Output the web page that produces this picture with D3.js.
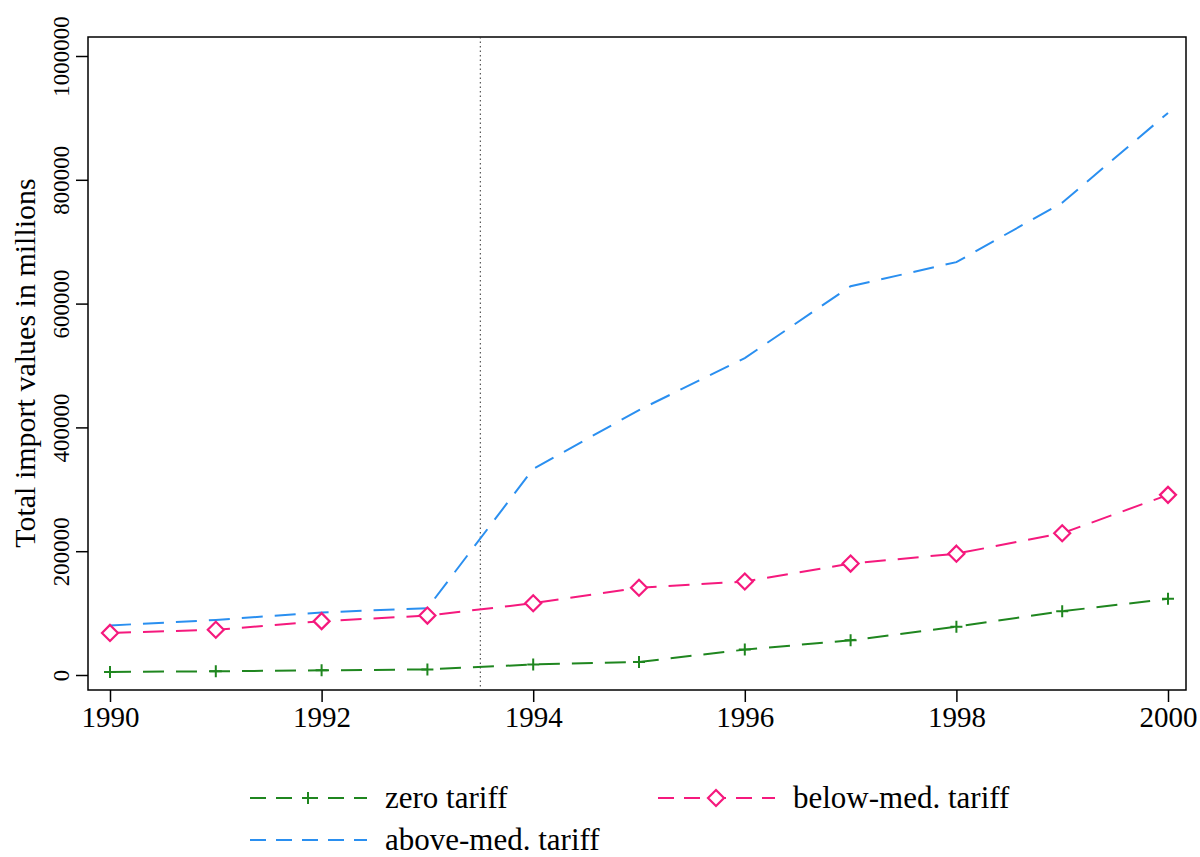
<!DOCTYPE html>
<html><head><meta charset="utf-8">
<script src="https://cdn.jsdelivr.net/npm/d3@7"></script>
<style>body{margin:0;background:#fff}text{font-family:"Liberation Serif","Times New Roman",serif}</style>
</head><body><svg id="c" width="1200" height="857"></svg>
<script>
var years = [1990,1991,1992,1993,1994,1995,1996,1997,1998,1999,2000];
var zeroTariff = [5000,6000,7500,9000,17000,21000,41000,56000,78000,103000,123000];
var belowMed = [68000,73000,87000,96000,116000,141000,151000,180000,196000,229000,291000];
var aboveMed = [80000,89000,101000,108000,333000,428000,512000,628000,667000,763000,908000];
var yTicks = [0,200000,400000,600000,800000,1000000];
var xTicks = [1990,1992,1994,1996,1998,2000];

var svg = d3.select("#c");
var x = d3.scaleLinear().domain([1990,2000]).range([110,1168]);
var y = d3.scaleLinear().domain([0,1000000]).range([675,56]);

svg.append("rect").attr("x",88).attr("y",37).attr("width",1098).attr("height",653)
  .attr("fill","none").attr("stroke","#000").attr("stroke-width",1.5);

var yAxis = svg.append("g").attr("transform","translate(88,0)")
  .call(d3.axisLeft(y).tickValues(yTicks).tickSize(12).tickFormat(d3.format("d")));
yAxis.select(".domain").remove();
yAxis.selectAll("text").attr("transform","rotate(-90)").attr("x",0).attr("y",-19)
  .attr("dy",0).style("text-anchor","middle").style("font-size","23px");

var xAxis = svg.append("g").attr("transform","translate(0,690)")
  .call(d3.axisBottom(x).tickValues(xTicks).tickSize(12).tickFormat(d3.format("d")));
xAxis.select(".domain").remove();
xAxis.selectAll("text").attr("y",16).style("font-size","29px");
svg.selectAll(".tick line").attr("stroke-width",1.5);

svg.append("text").attr("transform","translate(35,363) rotate(-90)")
  .attr("text-anchor","middle").style("font-size","30px").text("Total import values in millions");

svg.append("line").attr("x1",x(1993.5)).attr("x2",x(1993.5)).attr("y1",37).attr("y2",690)
  .attr("stroke","#333").attr("stroke-dasharray","1.5,3");

var line = d3.line().x(function(d,i){return x(years[i]);}).y(function(d){return y(d);});
var green = "#1f861f", pink = "#f5197d", blue = "#2a8ff0";
var dash = "21,12";

function plus(g,cx,cy,c){
  g.append("path").attr("d","M"+(cx-6)+","+cy+"h12M"+cx+","+(cy-6)+"v12")
    .attr("stroke",c).attr("stroke-width",2).attr("fill","none");
}
function diamond(g,cx,cy,c){
  g.append("path").attr("d","M"+cx+","+(cy-8)+"l8,8l-8,8l-8,-8z")
    .attr("stroke",c).attr("stroke-width",2.2).attr("fill","#fff");
}

svg.append("path").datum(aboveMed).attr("d",line).attr("fill","none")
  .attr("stroke",blue).attr("stroke-width",2).attr("stroke-dasharray",dash);
svg.append("path").datum(belowMed).attr("d",line).attr("fill","none")
  .attr("stroke",pink).attr("stroke-width",2).attr("stroke-dasharray",dash);
svg.append("path").datum(zeroTariff).attr("d",line).attr("fill","none")
  .attr("stroke",green).attr("stroke-width",2).attr("stroke-dasharray",dash);
var mk = svg.append("g");
belowMed.forEach(function(d,i){diamond(mk,x(years[i]),y(d),pink);});
zeroTariff.forEach(function(d,i){plus(mk,x(years[i]),y(d),green);});

// legend
var lg = svg.append("g");
function legLine(x0,yy,c){
  lg.append("line").attr("x1",x0).attr("x2",x0+117).attr("y1",yy).attr("y2",yy)
    .attr("stroke",c).attr("stroke-width",2).attr("stroke-dasharray","16,10");
}
legLine(250,798,green); plus(lg,308,798,green);
lg.append("text").attr("x",385).attr("y",808).style("font-size","31px").text("zero tariff");
legLine(658,798,pink); diamond(lg,716,798,pink);
lg.append("text").attr("x",793).attr("y",808).style("font-size","31px").text("below-med. tariff");
legLine(250,840,blue);
lg.append("text").attr("x",385).attr("y",850).style("font-size","31px").text("above-med. tariff");
</script></body></html>
